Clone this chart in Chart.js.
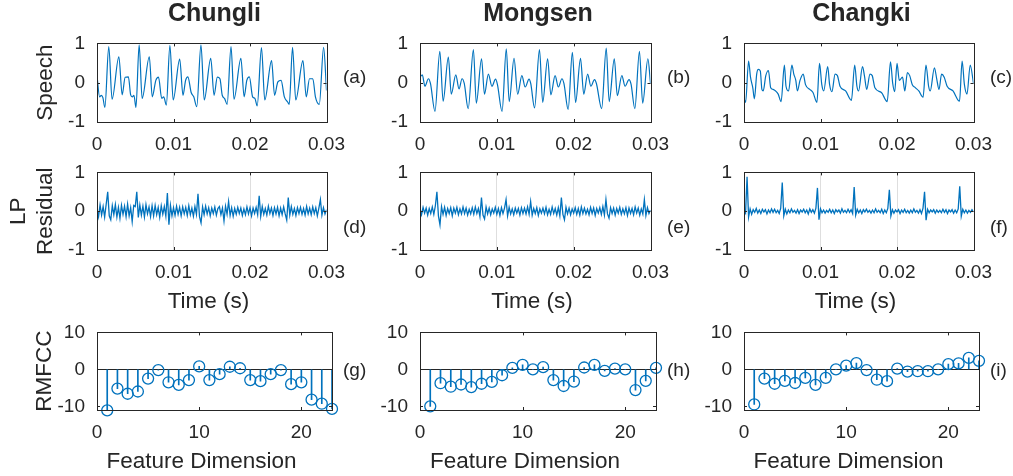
<!DOCTYPE html>
<html>
<head>
<meta charset="utf-8">
<title>Speech, LP residual and RMFCC</title>
<script src="https://cdn.jsdelivr.net/npm/chart.js@4.4.1/dist/chart.umd.min.js"></script>
<style>
  body { margin: 0; background: #fff; width: 1013px; height: 476px; overflow: hidden; position: relative;
         font-family: "Liberation Sans", Arial, sans-serif; color: #262626; }
  canvas { position: absolute; }
  .ttl { position: absolute; font-weight: bold; font-size: 25px; transform: translate(-50%, -50%); white-space: nowrap; }
  .xl { position: absolute; font-size: 22.5px; transform: translate(-50%, -50%); white-space: nowrap; }
  .tag { position: absolute; font-size: 19px; transform: translateY(-50%); white-space: nowrap; }
</style>
</head>
<body>
<script>
// speech waveforms (time in ms, amplitude)
const chungliT = [0,0.34,0.56,0.77,1.03,1.54,1.97,2.86,3.29,3.68,4.10,4.40,4.62,4.83,5.09,5.51,5.90,6.84,7.22,7.69,8.04,8.46,8.72,9.06,9.53,9.96,10.81,11.24,11.58,11.88,12.31,12.65,13.04,13.59,14.02,14.87,15.30,15.73,16.07,16.37,16.67,17.01,17.52,17.91,18.81,19.23,19.58,19.92,20.34,20.64,20.94,21.50,21.93,22.82,23.21,23.64,24.06,24.49,24.92,25.13,25.56,25.98,26.92,27.35,27.78,28.21,28.55,29.06,29.62,30.0];
const chungliV = [0.18,-0.36,-0.32,-0.38,-0.63,0.92,-0.42,0.66,-0.31,0.14,0.15,-0.31,-0.36,-0.32,-0.63,0.96,-0.40,0.66,-0.36,0.06,0.14,-0.40,-0.36,-0.57,0.95,-0.44,0.60,-0.32,0.06,0.15,-0.25,-0.36,-0.61,0.96,-0.44,0.62,-0.32,0.14,0.10,-0.32,-0.40,-0.55,0.92,-0.42,0.62,-0.36,0.06,0.15,-0.36,-0.40,-0.59,0.89,-0.44,0.56,-0.32,0.02,0.06,-0.36,-0.49,-0.55,0.90,-0.44,0.56,-0.36,0.10,0.10,-0.36,-0.55,0.90,-0.20];

const mongsenT = [0,0.30,0.64,1.10,1.36,1.95,2.58,3.01,3.69,4.07,4.66,5.08,5.47,5.76,6.27,6.95,7.33,8.01,8.39,8.90,9.36,9.83,10.08,10.68,11.23,11.61,12.24,12.71,13.26,13.69,14.19,14.41,14.91,15.55,15.97,16.61,17.03,17.58,18.01,18.47,18.73,19.28,19.83,20.25,20.89,21.31,21.82,22.24,22.71,22.96,23.64,24.24,24.62,25.29,25.68,26.27,26.69,27.20,27.46,27.96,28.56,28.98,29.66,30.0];
const mongsenV = [0.14,0.2,-0.09,0.1,-0.02,-0.73,0.8,-0.47,0.65,-0.29,0.2,-0.16,0.1,-0.02,-0.66,0.84,-0.52,0.61,-0.29,0.22,-0.09,0.09,-0.05,-0.73,0.86,-0.48,0.62,-0.29,0.18,-0.11,0.09,-0.02,-0.64,0.84,-0.5,0.61,-0.31,0.18,-0.11,0.1,-0.02,-0.68,0.77,-0.5,0.62,-0.29,0.22,-0.09,0.08,-0.02,-0.66,0.88,-0.48,0.61,-0.33,0.18,-0.09,0.08,-0.03,-0.66,0.8,-0.52,0.61,-0.02];

const changkiT = [0,0.21,0.60,0.85,1.15,1.36,1.66,1.87,2.13,2.34,2.51,2.85,3.19,3.49,3.79,4.13,4.47,4.85,5.28,5.49,5.83,6.26,6.51,6.77,6.98,7.32,7.74,8.04,8.60,9.02,9.53,9.87,10.17,10.42,10.94,11.19,11.49,11.91,12.21,12.55,13.28,14.04,14.47,14.76,14.98,15.49,15.74,16.04,16.47,16.76,17.11,17.96,18.72,19.15,19.44,19.70,20.00,20.30,20.72,21.02,21.36,21.66,22.00,22.42,22.85,23.40,23.79,24.13,24.34,24.89,25.19,25.49,25.83,26.17,26.55,27.32,28.17,28.51,28.81,29.15,29.57,30.0];
const changkiV = [-0.41,-0.5,0.55,0.14,-0.13,-0.41,0.22,0.34,0.3,-0.17,-0.21,0.18,0.31,-0.13,-0.17,-0.21,-0.29,-0.48,0.45,-0.09,-0.21,0.45,0.22,0.06,-0.21,0.06,0.22,-0.05,-0.17,-0.25,-0.5,0.49,-0.05,-0.21,0.41,-0.05,-0.23,0.22,0.18,-0.09,-0.21,-0.45,0.45,-0.09,-0.21,0.41,0.18,-0.17,0.22,0.18,-0.13,-0.25,-0.48,0.53,-0.02,-0.23,0.49,0.06,0.14,-0.21,0.26,0.18,-0.05,-0.13,-0.21,-0.37,0.45,-0.09,-0.21,0.38,0.1,-0.17,0.22,0.14,-0.09,-0.21,-0.47,0.55,-0.05,-0.29,0.45,-0.02];

// LP residuals, in hundredths, one value every 0.2 ms from 0 to 30 ms
const chungliRes = [6,-14,16,-10,12,-15,18,50,-12,-22, 14,-9,17,-15,10,-18,15,-8,13,-14, 18,-12,9,-27,15,12,50,-16,16,-10, 13,-15,17,-7,11,-14,14,-12,15,-9, 10,-16,14,-8,12,-13,47,-35,15,-12, 9,-11,13,-8,10,-12,11,-7,10,-11, 14,-9,8,-13,12,-8,45,-14,-30,11, -9,13,-7,9,-12,8,-6,11,-10,7, 12,-9,8,-25,13,-8,25,-11,9,-13, 7,-8,10,-6,8,-11,6,-9,11,-7, 9,-12,8,-6,10,-9,40,-13,12,-8, 7,-10,13,-6,8,-11,9,-7,10,-12, 8,-9,11,-7,-23,35,-10,12,-8,7, -11,9,-6,10,-8,7,-10,12,-7,8, -9,11,-6,9,-12,8,30,-10,9,-7, 4];
const mongsenRes = [6,-9,10,-5,8,-10,7,-6,11,-8, 14,50,-12,-35,12,-8,10,-11,7,-6, 9,-12,8,-5,10,-9,6,-7,11,-6, 8,-10,5,-7,9,-8,11,-6,7,-14, 35,-10,-20,11,-7,8,-9,6,-5,10, -8,7,-11,9,-6,8,30,-12,10,-7, 6,-9,8,-5,7,-10,9,-6,8,-7, 11,-8,25,-10,7,-6,9,-11,6,-5, 8,-7,10,-9,5,-8,11,-6,7,-10, 9,-12,35,-8,-22,10,-7,8,-9,6, -5,9,-8,7,-10,11,-6,8,-7,5, -9,10,-6,8,-11,7,-5,9,-8,12, -10,30,-7,-18,9,-6,8,-10,7,-5, 10,-8,6,-7,9,-11,8,-6,7,-9, 11,-5,8,-10,6,-7,30,-11,9,-6, 3];
const changkiRes = [2,-5,89,-15,6,-8,4,-3,7,-5, 3,-6,5,-2,4,-7,3,-4,6,-3, 5,-4,2,-6,8,74,-12,5,-7,3, -4,6,-3,2,-5,4,-6,3,-2,5, -4,3,-7,6,-3,4,-5,8,60,-22, 6,-4,3,-5,2,-3,5,-4,3,-6, 4,-2,3,-5,6,-3,2,-4,5,-3, 4,-6,62,-10,5,-4,3,-6,4,-2, 5,-3,2,-5,3,-4,6,-3,2,-4, 5,-6,3,-4,7,55,-12,4,-5,3, -2,4,-6,3,-3,5,-4,2,-5,3, -4,6,-3,2,-5,4,-6,8,50,-23, 5,-4,3,-2,4,-5,3,-3,2,-4, 5,-3,4,-6,3,-2,4,-5,3,-4, 6,64,-13,5,-4,3,-5,2,-3,4, -2];
const resStepMs = 0.2;

// RMFCC coefficients, dimensions 1..23
const dims = [1,2,3,4,5,6,7,8,9,10,11,12,13,14,15,16,17,18,19,20,21,22,23];
const chungliMfcc = [-11.1,-5.2,-6.6,-6.0,-2.5,-0.2,-3.5,-4.2,-2.9,0.8,-2.9,-1.3,0.7,0.3,-2.9,-3.2,-1.3,-0.2,-4.0,-3.5,-8.2,-9.3,-10.7];
const mongsenMfcc = [-10.0,-3.75,-4.7,-4.1,-4.8,-3.9,-3.4,-1.6,0.4,1.2,0,0.6,-2.9,-4.5,-3.3,0.5,1.2,-0.4,0.2,0,-5.6,-3.1,0.4];
const changkiMfcc = [-9.5,-2.5,-3.9,-3.1,-3.7,-2.3,-4.2,-2.3,0,1.0,1.7,-0.2,-2.8,-3.2,0.2,-0.6,-0.5,-0.5,0,1.4,1.6,3.1,2.3];

const speakers = ['Chungli', 'Mongsen', 'Changki'];
const panelTags = [['(a)', '(b)', '(c)'], ['(d)', '(e)', '(f)'], ['(g)', '(h)', '(i)']];
const rowNames = ['Speech', ['LP', 'Residual'], 'RMFCC'];
const xNames = [null, 'Time (s)', 'Feature Dimension'];
const timeTicks = [0, 0.01, 0.02, 0.03];
const timeLabels = ['0', '0.01', '0.02', '0.03'];
const ampTicks = [-1, 0, 1];
const ampLabels = ['-1', '0', '1'];
const dimTicks = [0, 10, 20];
const dimLabels = ['0', '10', '20'];
const mfccTicks = [-10, 0, 10];
const mfccLabels = ['-10', '0', '10'];

const BLUE = '#0072BD';
const INK = '#262626';
const FONT = '"Liberation Sans", Arial, sans-serif';
const PAD_T = 14, PAD_R = 24;
const cols = [{left: 97, w: 235, padL: 97}, {left: 420, w: 236, padL: 60}, {left: 744, w: 235, padL: 60}];
const rows = [{top: 34, h: 88, padB: 40}, {top: 163, h: 87, padB: 40}, {top: 323, h: 87, padB: 40}];
const nameOffset = [32.5, 5.5, 31.5];
const xNameY = [0, 301, 461];
const xNameShift = [0, -6, -13];

// box round the axes with small inward ticks, like the original figure
const frame = {
  id: 'frame',
  afterDatasetsDraw(chart) {
    const {ctx, chartArea: a, scales: {x, y}} = chart;
    ctx.save();
    ctx.strokeStyle = INK;
    ctx.lineWidth = 1;
    ctx.beginPath();
    x.ticks.forEach(t => {
      const px = Math.round(x.getPixelForValue(t.value)) + 0.5;
      ctx.moveTo(px, a.bottom); ctx.lineTo(px, a.bottom - 3);
      ctx.moveTo(px, a.top); ctx.lineTo(px, a.top + 3);
    });
    y.ticks.forEach(t => {
      const py = Math.round(y.getPixelForValue(t.value)) + 0.5;
      ctx.moveTo(a.left, py); ctx.lineTo(a.left + 3, py);
      ctx.moveTo(a.right, py); ctx.lineTo(a.right - 3, py);
    });
    ctx.stroke();
    ctx.strokeRect(Math.round(a.left) + 0.5, Math.round(a.top) + 0.5, Math.round(a.width), Math.round(a.height));
    ctx.restore();
  }
};

function axis(r, c, isX, spec) {
  const col = cols[c], row = rows[r];
  const o = {
    type: 'linear', min: spec.min, max: spec.max, offset: false,
    border: {display: false},
    grid: {display: !!spec.grid, drawTicks: false, offset: false, lineWidth: 1,
           color: spec.grid || 'rgba(0,0,0,0)'},
    ticks: {font: {family: FONT, size: 19}, color: INK, padding: isX ? 11 : 12,
            autoSkip: false, maxRotation: 0, callback: (v, i) => spec.labels[i]},
    afterBuildTicks: s => { s.ticks = spec.ticks.map(v => ({value: v})); },
    afterFit: s => { if (isX) s.height = row.padB; else s.width = col.padL; }
  };
  if (spec.title) {
    o.title = {display: true, text: spec.title, color: INK,
               font: {family: FONT, size: 22.5}, padding: spec.titlePad};
  }
  return o;
}

function makePanel(r, c, type, datasets, xs, ys) {
  const col = cols[c], row = rows[r];
  const cv = document.createElement('canvas');
  cv.width = col.padL + col.w + PAD_R;
  cv.height = PAD_T + row.h + row.padB;
  cv.style.left = (col.left - col.padL) + 'px';
  cv.style.top = (row.top - PAD_T) + 'px';
  document.body.appendChild(cv);
  return new Chart(cv, {
    type,
    data: {datasets},
    options: {
      responsive: false, animation: false, events: [], devicePixelRatio: 1,
      layout: {padding: {left: 0, top: PAD_T, right: PAD_R, bottom: 0}},
      plugins: {legend: {display: false}, tooltip: {enabled: false}},
      scales: {x: axis(r, c, true, xs), y: axis(r, c, false, ys)}
    },
    plugins: [frame]
  });
}

function label(cls, text, x, y) {
  const d = document.createElement('div');
  d.className = cls;
  d.textContent = text;
  d.style.left = x + 'px';
  d.style.top = y + 'px';
  document.body.appendChild(d);
}

const speech = [[chungliT, chungliV], [mongsenT, mongsenV], [changkiT, changkiV]];
const residual = [chungliRes, mongsenRes, changkiRes];
const mfcc = [chungliMfcc, mongsenMfcc, changkiMfcc];
const midGrid = ctx => (ctx.tick.value > 0 && ctx.tick.value < 0.03) ? '#dedede' : 'rgba(0,0,0,0)';
const zeroLine = ctx => ctx.tick.value === 0 ? INK : 'rgba(0,0,0,0)';

for (let c = 0; c < 3; c++) {
  const yTitle = r => c === 0 ? rowNames[r] : null;
  const timeAxis = {min: 0, max: 0.03, ticks: timeTicks, labels: timeLabels};

  const [T, V] = speech[c];
  makePanel(0, c, 'line', [{
    data: T.map((t, i) => ({x: t / 1000, y: V[i]})),
    borderColor: BLUE, borderWidth: 1.2, pointRadius: 0, cubicInterpolationMode: 'monotone'
  }], timeAxis,
  {min: -1, max: 1, ticks: ampTicks, labels: ampLabels, title: yTitle(0), titlePad: {top: nameOffset[0]}});

  makePanel(1, c, 'line', [{
    data: residual[c].map((v, i) => ({x: i * resStepMs / 1000, y: v / 100})),
    borderColor: BLUE, borderWidth: 1.3, pointRadius: 0, tension: 0
  }], Object.assign({}, timeAxis, {grid: midGrid}),
  {min: -1, max: 1, ticks: ampTicks, labels: ampLabels, title: yTitle(1), titlePad: {top: nameOffset[1]}});

  const pts = mfcc[c].map((v, i) => ({x: dims[i], y: v}));
  makePanel(2, c, 'bar', [
    {type: 'line', data: pts, showLine: false, pointRadius: 5.5, pointBorderWidth: 1.3,
     pointBorderColor: BLUE, pointBackgroundColor: 'rgba(0,0,0,0)', clip: false, order: 0},
    {type: 'bar', data: pts, barThickness: 1, backgroundColor: BLUE, borderWidth: 0, order: 1}
  ], {min: 0, max: 23, ticks: dimTicks, labels: dimLabels},
  {min: -11, max: 10, ticks: mfccTicks, labels: mfccLabels, grid: zeroLine, title: yTitle(2), titlePad: {top: nameOffset[2]}});

  const col = cols[c];
  const mid = col.left + col.w / 2;
  label('ttl', speakers[c], mid, 12);
  [1, 2].forEach(r => label('xl', xNames[r], mid + xNameShift[r], xNameY[r]));
  [77, 227, 370].forEach((y, r) => label('tag', panelTags[r][c], col.left + col.w + 11, y));
}
</script>
</body>
</html>
